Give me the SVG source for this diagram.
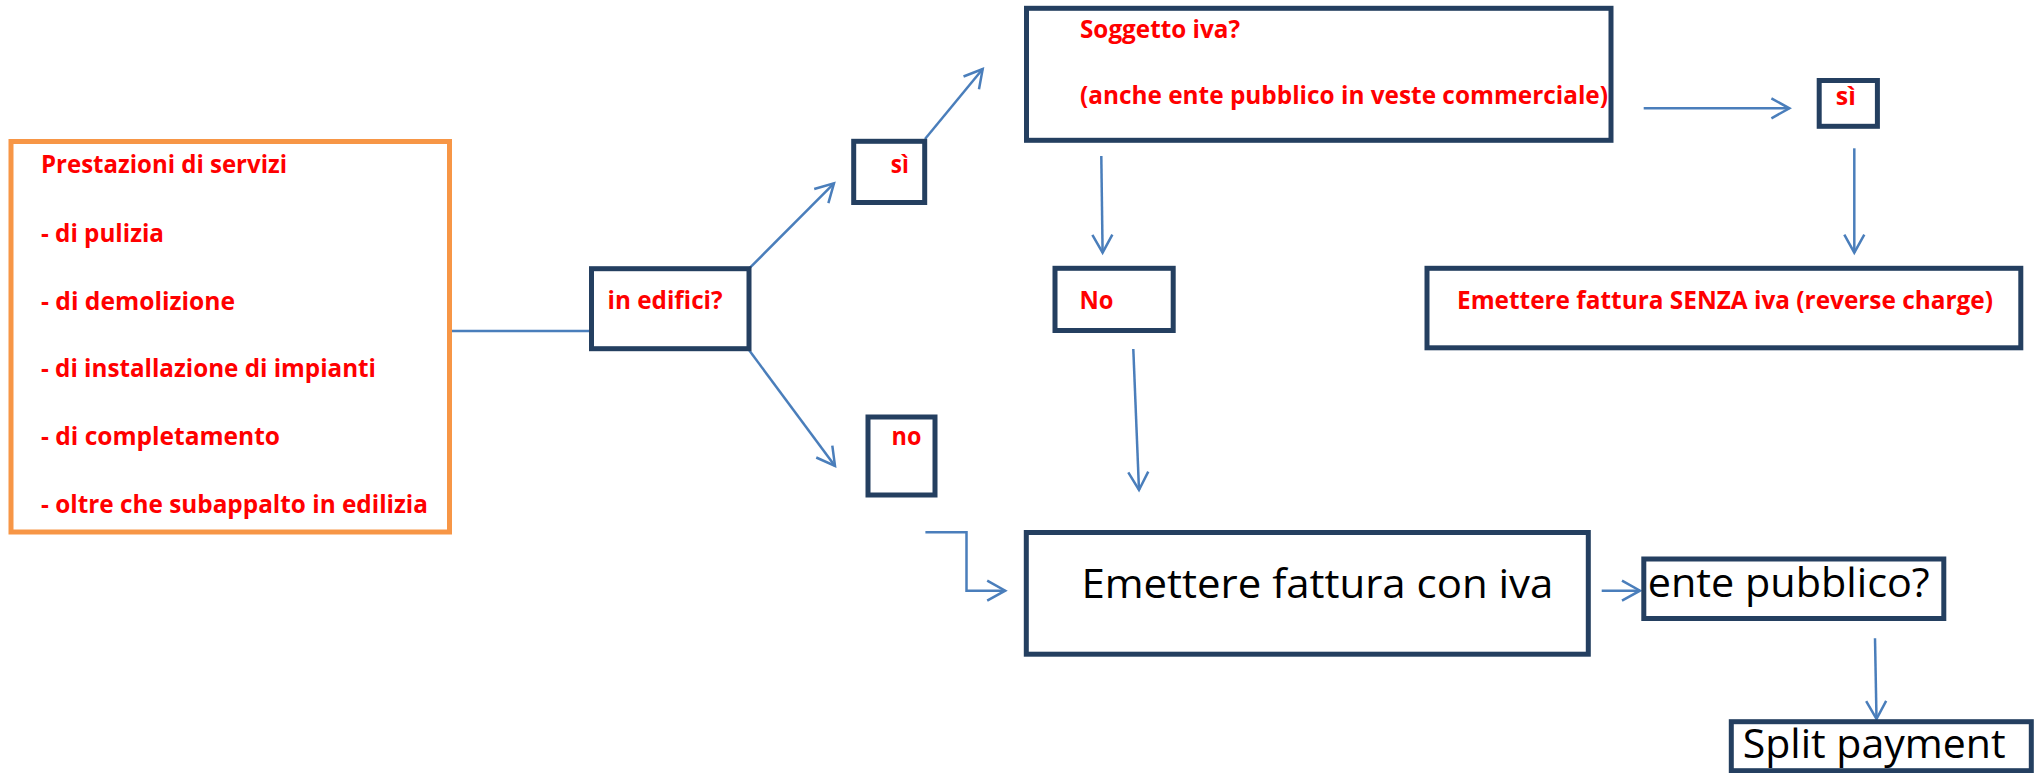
<svg xmlns="http://www.w3.org/2000/svg" width="2038" height="773" viewBox="0 0 2038 773">
  <style>
    .box { fill: #FFFFFF; stroke: #243F60; stroke-width: 5; }
    .obox { fill: #FFFFFF; stroke: #F79646; stroke-width: 5; }
    .red { font-family: "Open Sans", "Liberation Sans", sans-serif; font-weight: bold; font-size: 24.5px; fill: #FF0000; }
    .blk { font-family: "Open Sans", "Liberation Sans", sans-serif; font-size: 41px; fill: #000000; }
    .con { fill: none; stroke: #4A7EBB; stroke-width: 2.5; }
    .arr { marker-end: url(#chev); }
  </style>
  <defs>
    <marker id="chev" markerUnits="userSpaceOnUse" markerWidth="26" markerHeight="26" viewBox="-22 -13 26 26" refX="0" refY="0" orient="auto">
      <path d="M-18,-10 L0,0 L-18,10" fill="none" stroke="#4A7EBB" stroke-width="2.5"/>
    </marker>
  </defs>

  <g id="connectors">
    <line class="con" x1="449.6" y1="331" x2="591" y2="331"/>
    <line class="con arr" x1="749" y1="268.7" x2="834" y2="183.3"/>
    <line class="con arr" x1="749" y1="350" x2="835" y2="466"/>
    <line class="con arr" x1="925" y1="139" x2="982.7" y2="69"/>
    <line class="con arr" x1="1643.7" y1="108.3" x2="1789.4" y2="108.3"/>
    <line class="con arr" x1="1101.3" y1="156" x2="1102.6" y2="252.7"/>
    <line class="con arr" x1="1854.3" y1="148.3" x2="1854.3" y2="252.7"/>
    <line class="con arr" x1="1133.3" y1="349" x2="1139" y2="490"/>
    <path class="con arr" d="M925.4,532.3 H966.5 V590.7 H1005.2"/>
    <line class="con arr" x1="1601.7" y1="590.7" x2="1640" y2="590.7"/>
    <line class="con arr" x1="1875" y1="638.3" x2="1876.5" y2="719"/>
  </g>

  <g id="node-prestazioni">
    <rect class="obox" x="11" y="141.5" width="438.5" height="390.5"/>
    <text class="red" x="41" y="173" textLength="246" lengthAdjust="spacingAndGlyphs">Prestazioni di servizi</text>
    <text class="red" x="41" y="241.7" textLength="123" lengthAdjust="spacingAndGlyphs">- di pulizia</text>
    <text class="red" x="41" y="310" textLength="194" lengthAdjust="spacingAndGlyphs">- di demolizione</text>
    <text class="red" x="41" y="377.3" textLength="335" lengthAdjust="spacingAndGlyphs">- di installazione di impianti</text>
    <text class="red" x="41" y="445" textLength="239" lengthAdjust="spacingAndGlyphs">- di completamento</text>
    <text class="red" x="41" y="512.7" textLength="387" lengthAdjust="spacingAndGlyphs">- oltre che subappalto in edilizia</text>
  </g>

  <g id="node-in-edifici">
    <rect class="box" x="591.5" y="268.7" width="157.5" height="80"/>
    <text class="red" x="607.6" y="309.3" textLength="115" lengthAdjust="spacingAndGlyphs">in edifici?</text>
  </g>

  <g id="node-si-1">
    <rect class="box" x="853.7" y="141.3" width="71" height="61.2"/>
    <text class="red" x="890.8" y="173.3" textLength="18" lengthAdjust="spacingAndGlyphs">sì</text>
  </g>

  <g id="node-no-1">
    <rect class="box" x="868" y="417" width="67" height="78"/>
    <text class="red" x="891.6" y="445" textLength="29.8" lengthAdjust="spacingAndGlyphs">no</text>
  </g>

  <g id="node-soggetto">
    <rect class="box" x="1026.5" y="8.3" width="584.5" height="132"/>
    <text class="red" x="1080" y="37.7" textLength="160" lengthAdjust="spacingAndGlyphs">Soggetto iva?</text>
    <text class="red" x="1080" y="103.5" textLength="528" lengthAdjust="spacingAndGlyphs">(anche ente pubblico in veste commerciale)</text>
  </g>

  <g id="node-si-2">
    <rect class="box" x="1819.2" y="80.5" width="58.2" height="45.8"/>
    <text class="red" x="1835.8" y="105" textLength="20" lengthAdjust="spacingAndGlyphs">sì</text>
  </g>

  <g id="node-no-2">
    <rect class="box" x="1055" y="268.3" width="118.2" height="62.2"/>
    <text class="red" x="1079.5" y="309.3" textLength="34" lengthAdjust="spacingAndGlyphs">No</text>
  </g>

  <g id="node-senza-iva">
    <rect class="box" x="1427" y="268.3" width="593.8" height="79.5"/>
    <text class="red" x="1457" y="309.3" textLength="536" lengthAdjust="spacingAndGlyphs">Emettere fattura SENZA iva (reverse charge)</text>
  </g>

  <g id="node-con-iva">
    <rect class="box" x="1026.3" y="532.5" width="562" height="121.7"/>
    <text class="blk" x="1081.4" y="597.7" textLength="472" lengthAdjust="spacingAndGlyphs">Emettere fattura con iva</text>
  </g>

  <g id="node-ente-pubblico">
    <rect class="box" x="1643.8" y="559" width="300" height="59.5"/>
    <text class="blk" x="1647.7" y="597" textLength="282" lengthAdjust="spacingAndGlyphs">ente pubblico?</text>
  </g>

  <g id="node-split">
    <rect class="box" x="1731.3" y="721.7" width="300" height="49"/>
    <text class="blk" x="1742.7" y="758.3" textLength="263" lengthAdjust="spacingAndGlyphs">Split payment</text>
  </g>
</svg>
